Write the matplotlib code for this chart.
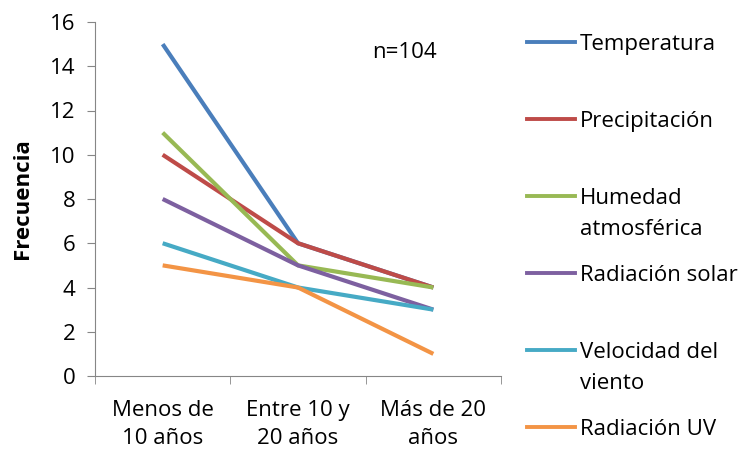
import matplotlib
matplotlib.use("Agg")
import matplotlib.pyplot as plt
from matplotlib.lines import Line2D

plt.rcParams['font.family'] = ['Open Sans', 'DejaVu Sans']

categories = ["Menos de\n10 años", "Entre 10 y\n20 años", "Más de 20\naños"]
series_names = ["Temperatura", "Precipitación", "Humedad\natmosférica",
                "Radiación solar", "Velocidad del\nviento", "Radiación UV"]
temperatura = [15, 6, 4]
precipitacion = [10, 6, 4]
humedad = [11, 5, 4]
radiacion_solar = [8, 5, 3]
velocidad_viento = [6, 4, 3]
radiacion_uv = [5, 4, 1]
colors = ["#4A7EBB", "#BE4B48", "#98B954", "#7D60A0", "#46AAC5", "#F39445"]

all_series = [temperatura, precipitacion, humedad,
              radiacion_solar, velocidad_viento, radiacion_uv]

FS = 16

fig = plt.figure(figsize=(7.47, 4.5), dpi=100)
ax = fig.add_axes([95/747, 1 - 376/450, (501 - 95)/747, (376 - 22)/450])

x = list(range(len(categories)))
for vals, col in zip(all_series, colors):
    ax.plot(x, vals, color=col, linewidth=3, solid_capstyle='butt')

ax.set_xlim(-0.5, 2.5)
ax.set_ylim(0, 16)
ax.set_yticks(range(0, 17, 2))
ax.set_xticks(x)
ax.set_xticklabels(categories, fontsize=FS, linespacing=1.45)
ax.set_xticks([-0.5, 0.5, 1.5, 2.5], minor=True)
ax.tick_params(axis='x', which='major', length=0, pad=17)
ax.tick_params(axis='x', which='minor', length=6, color="#868686", direction='out')
ax.tick_params(axis='y', length=6, color="#868686", labelsize=FS, pad=8)
for side in ['top', 'right']:
    ax.spines[side].set_visible(False)
for side in ['left', 'bottom']:
    ax.spines[side].set_color("#868686")
ax.set_ylabel("Frecuencia", fontsize=FS, fontweight='bold', labelpad=12)

ax.text(1.79, 14.6, "n=104", fontsize=FS, ha='center', va='center')

# manual legend on the right
for i, (name, col) in enumerate(zip(series_names, colors)):
    y_px = 42 + 77 * i
    yf = 1 - y_px / 450
    fig.add_artist(Line2D([527/747, 575/747], [yf, yf], color=col, linewidth=2.8,
                          transform=fig.transFigure))
    fig.text(580/747, 1 - (y_px - 8) / 450, name, fontsize=FS, va='top', ha='left',
             linespacing=1.6)

fig.savefig("out.png", dpi=100)
